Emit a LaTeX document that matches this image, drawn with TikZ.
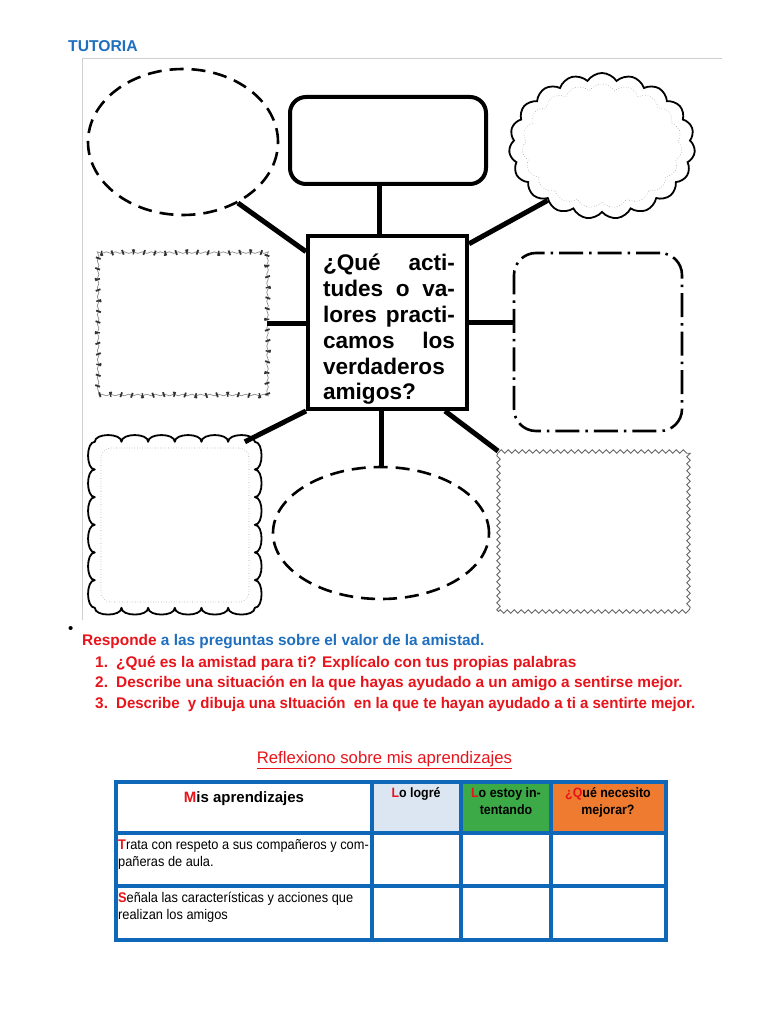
\documentclass[tikz,border=0pt]{standalone}
\usepackage{fontspec}
\setmainfont{Liberation Sans}
\newfontfamily\narrowfont[FakeStretch=0.915]{Liberation Sans}
\newfontfamily\headfont[FakeStretch=0.92]{Liberation Sans}
\newfontfamily\listnarrow[FakeStretch=0.975]{Liberation Sans}
\usetikzlibrary{positioning,calc,shapes.geometric,shapes.symbols,decorations.pathmorphing}
\definecolor{tutblue}{HTML}{1F6FBF}
\definecolor{tabblue}{HTML}{0F67B8}
\definecolor{redtext}{HTML}{E8141B}
\definecolor{lightblue}{HTML}{DCE6F2}
\definecolor{okgreen}{HTML}{3DAA48}
\definecolor{tryorange}{HTML}{EE7B30}
\definecolor{framegray}{HTML}{CFCFCF}
\tikzset{
  dashoval/.style={
    ellipse,draw,line width=2.6pt,
    dash pattern=on 14pt off 8pt,inner sep=0pt
  },
  roundbox/.style={
    rectangle,rounded corners=16pt,draw,line width=4pt,inner sep=0pt
  },
  dashdotbox/.style={
    rectangle,rounded corners=22pt,draw,line width=2.6pt,inner sep=0pt,
    dash pattern=on 24pt off 6pt on 2.5pt off 6pt
  },
  puffcloud/.style={
    cloud,cloud puffs=19,cloud puff arc=115,draw,line width=1.8pt,inner sep=0pt
  },
  puffline/.style={draw,line width=1.8pt,line join=round},
  stampbox/.style={
    rectangle,draw=black!45,line width=.7pt,inner sep=0pt,
    decorate,decoration={snake,segment length=9pt,amplitude=.8pt},
    postaction={draw=black!80,line width=5pt,dash pattern=on 1.8pt off 9.5pt}
  },
  zigbox/.style={
    rectangle,draw=black!60,line width=.9pt,inner sep=0pt,
    decorate,decoration={zigzag,segment length=7pt,amplitude=1.7pt}
  },
  innerdots/.style={draw=black!35,line width=.6pt,dotted},
  link/.style={line width=5pt},
  listtext/.style={anchor=base west,inner sep=0pt,font=\fontsize{15.4}{18}\selectfont\bfseries},
  headtext/.style={anchor=base,inner sep=0pt,align=center,
    font=\headfont\fontsize{13.5}{16.8}\selectfont\bfseries},
  rowtext/.style={anchor=base west,inner sep=0pt,align=left,
    font=\narrowfont\fontsize{14}{17}\selectfont}
}
\begin{document}
\begin{tikzpicture}[x=1pt,y=-1pt]
\useasboundingbox[fill=white] (0,0) rectangle (768,1024);

\node[anchor=base west,inner sep=0pt,text=tutblue,font=\fontsize{15.7}{18}\selectfont\bfseries] (title) at (68,52) {TUTORIA};

% picture frame
\draw[framegray,line width=.8pt] (82,620) -- (82,58) -- (722,58);

% shapes round the question
\node[dashoval,minimum width=190pt,minimum height=146pt] (ovaltop) at (183,142) {};
\node[roundbox,minimum width=196pt,minimum height=87pt] (boxtop) at (388,140.5) {};
\node[puffcloud,minimum width=186pt,minimum height=146pt] (cloudtop) at (602,146) {};
\node[puffcloud,innerdots,line width=.6pt,minimum width=160pt,minimum height=124pt] (cloudtopin) at (602,146) {};
\node[stampbox,minimum width=168pt,minimum height=144pt] (stamp) at (183,323) {};
\node[dashdotbox,minimum width=168pt,minimum height=178pt] (dashbox) at (598,342) {};
\node[rectangle,inner sep=0pt,minimum width=160pt,minimum height=166pt] (cloudbox) at (175,525) {};
\draw[puffline] (cloudbox.north west)
  \foreach \i in {1,...,6} { .. controls +(0,-9) and +(0,-9) .. ++(26.667,0) }
  \foreach \i in {1,...,6} { .. controls +(9,0) and +(9,0) .. ++(0,27.667) }
  \foreach \i in {1,...,6} { .. controls +(0,9) and +(0,9) .. ++(-26.667,0) }
  \foreach \i in {1,...,6} { .. controls +(-9,0) and +(-9,0) .. ++(0,-27.667) } -- cycle;
\node[rectangle,rounded corners=10pt,innerdots,minimum width=148pt,minimum height=154pt] (cloudboxin) at (175,525) {};
\node[dashoval,minimum width=216pt,minimum height=132pt] (ovalbot) at (381,533) {};
\node[zigbox,minimum width=190pt,minimum height=160pt] (zig) at (593.5,531.5) {};

% the question
\node[align=left,text width=132pt,inner sep=0pt,
  font=\fontsize{22.6}{25.8}\selectfont\bfseries] (qtext) at (389,329.5)
{¿Qué\hfill acti-\\
tudes\hfill o\hfill va-\\
lores\hfill practi-\\
camos\hfill los\\
verdaderos\\
amigos?};
\node[rectangle,draw,line width=4pt,minimum width=159pt,minimum height=173pt] (question) at (387.5,322.5) {};

\draw[link] (question.95) -- (question.95 |- boxtop.south);
\draw[link] (ovaltop.-48) -- (question.139);
\draw[link] (question.44) -- (cloudtop.-135);
\draw[link] (stamp.east) -- (stamp.east -| question.west);
\draw[link] (question.east) -- (question.east -| dashbox.west);
\draw[link] (question.south west) -- (cloudbox.50);
\draw[link] (question.-57) -- (zig.north west);
\draw[link] (ovalbot.north) -- (ovalbot.north |- question.south);

% questions
\node[anchor=base west,inner sep=0pt,font=\fontsize{15}{18}\selectfont] (bullet) at (68,633) {•};
\node[listtext] (resp) at (82,645) {\textcolor{redtext}{Responde} \textcolor{tutblue}{a las preguntas sobre el valor de la amistad.}};
\node[listtext,text=redtext] (n1) at (95,667) {1.};
\node[listtext,text=redtext] (q1) at (116,667) {¿Qué es la amistad para ti? Explícalo con tus propias palabras};
\node[listtext,text=redtext] (n2) at (95,687) {2.};
\node[listtext,text=redtext] (q2) at (116,687) {Describe una situación en la que hayas ayudado a un amigo a sentirse mejor.};
\node[listtext,text=redtext] (n3) at (95,708) {3.};
\node[listtext,text=redtext,font=\listnarrow\fontsize{15.4}{18}\selectfont\bfseries] (q3) at (116,708) {Describe\ \ y dibuja una sItuación\ \ en la que te hayan ayudado a ti a sentirte mejor.};

\node[anchor=base,inner sep=0pt,text=redtext,font=\fontsize{16.7}{19}\selectfont] (reflex) at (384.5,763) {\underline{Reflexiono sobre mis aprendizajes}};

% table
\fill[lightblue] (372,782) rectangle (461,833);
\fill[okgreen] (461,782) rectangle (551,833);
\fill[tryorange] (551,782) rectangle (666,833);
\draw[tabblue,line width=3.5pt] (116,782) rectangle (666,940);
\foreach \x in {372,461,551}
  \draw[tabblue,line width=3.5pt] (\x,782) -- (\x,940);
\foreach \y in {833,886}
  \draw[tabblue,line width=3.5pt] (116,\y) -- (666,\y);

\node[anchor=base,inner sep=0pt,font=\fontsize{15}{18}\selectfont\bfseries] (mis) at (244,802) {\textcolor{redtext}{M}is aprendizajes};
\node[headtext] (logre) at (416,797) {\textcolor{redtext}{L}o logré};
\node[headtext] (intento) at (506,814) {\textcolor{redtext}{L}o estoy in-\\tentando};
\node[headtext] (mejorar) at (608,814) {\textcolor{redtext}{¿Q}ué necesito\\mejorar?};
\node[rowtext] (respeto) at (118,866) {\textcolor{redtext}{\bfseries T}rata con respeto a sus compañeros y com-\\pañeras de aula.};
\node[rowtext] (senala) at (118,919) {\textcolor{redtext}{\bfseries S}eñala las características y acciones que\\realizan los amigos};
\end{tikzpicture}
\end{document}
